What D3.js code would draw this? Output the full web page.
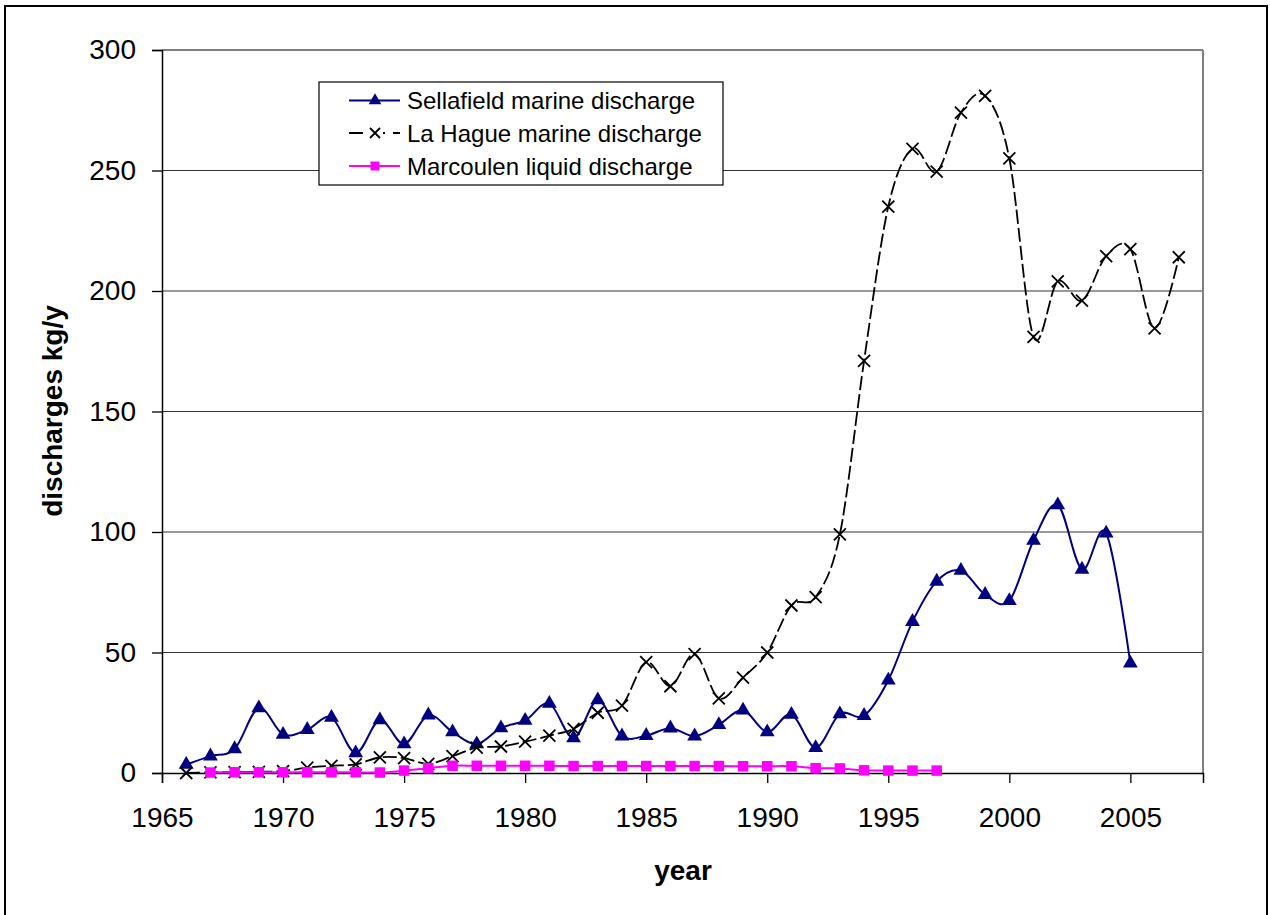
<!DOCTYPE html>
<html>
<head>
<meta charset="utf-8">
<script src="https://cdn.jsdelivr.net/npm/d3@7"></script>
<style>
  body { margin: 0; background: #fff; }
  svg { display: block; font-family: Arial, "Liberation Sans", sans-serif; }
</style>
</head>
<body>
<div id="chart"></div>
<script>

// data (kg/y)
const sellafieldYears = d3.range(1966, 2006);
const sellafield = [3.5, 7, 10, 27, 16, 18, 23, 8.3, 22, 12,
  24, 17, 12, 18.7, 21.8, 28.8, 14.5, 30.3, 15.3, 15.5,
  18.6, 15.3, 20, 26, 17, 24.3, 10.5, 24.5, 23.8, 38.5,
  62.8, 79.5, 84, 74, 71.5, 96.5, 111.2, 84.5, 99.5, 45.5];

const laHagueYears = d3.range(1966, 2008);
const laHague = [0, 0.3, 0.4, 0.5, 0.8, 2.2, 3.0, 3.6, 6.5, 6.2,
  3.8, 7, 10.5, 11, 13, 15.5, 18.3, 25, 28, 46,
  36, 49.3, 31, 39.6, 50, 69.5, 73, 99, 171, 235,
  259, 249.5, 274, 281, 255, 181, 204, 196, 214.5, 217.4,
  184.5, 214];

const marcouleYears = d3.range(1967, 1998);
const marcoule = [0.2, 0.3, 0.3, 0.3, 0.3, 0.3, 0.3, 0.2, 1.0, 2.0,
  3.0, 3.0, 3.0, 3.0, 3.0, 2.9, 2.9, 2.9, 2.9, 2.9,
  2.9, 2.9, 2.8, 2.8, 2.8, 2.0, 1.9, 1.1, 1.0, 1.0, 1.0];

const xTicks = [1965, 1970, 1975, 1980, 1985, 1990, 1995, 2000, 2005];
const yTicks = [0, 50, 100, 150, 200, 250, 300];
const legendLabels = ["Sellafield marine discharge", "La Hague marine discharge", "Marcoulen liquid discharge"];

const width = 1270;
const height = 915;
const margin = {top: 50, right: 67, bottom: 142, left: 162};

const svg = d3.select("#chart").append("svg")
    .attr("width", width)
    .attr("height", height);

// outer chart border
svg.append("rect")
    .attr("x", 5).attr("y", 6)
    .attr("width", 1262).attr("height", 920)
    .attr("fill", "none")
    .attr("stroke", "#000")
    .attr("stroke-width", 2);

const x = d3.scaleLinear()
    .domain([1965, 2008])
    .range([margin.left, width - margin.right]);

const y = d3.scaleLinear()
    .domain([0, 300])
    .range([height - margin.bottom, margin.top]);

// gridlines
svg.append("g")
  .selectAll("line")
  .data(yTicks.slice(1))
  .join("line")
    .attr("x1", x(1965)).attr("x2", x(2008))
    .attr("y1", d => y(d)).attr("y2", d => y(d))
    .attr("stroke", d => d == 300 ? "#808080" : "#333")
    .attr("stroke-width", d => d == 300 ? 2 : 1.2);

// right border of plot area
svg.append("line")
    .attr("x1", x(2008)).attr("x2", x(2008))
    .attr("y1", y(300)).attr("y2", y(0))
    .attr("stroke", "#808080")
    .attr("stroke-width", 2);

// axes
const yAxis = svg.append("g")
    .attr("transform", "translate(" + margin.left + ",0)")
    .call(d3.axisLeft(y).tickValues(yTicks).tickSize(10).tickPadding(16));

const xAxis = svg.append("g")
    .attr("transform", "translate(0," + y(0) + ")")
    .call(d3.axisBottom(x).tickValues(xTicks).tickFormat(d3.format("d")).tickSize(10).tickPadding(24));

[xAxis, yAxis].forEach(a => {
  a.selectAll("text").attr("font-size", 28).attr("fill", "#000")
    .attr("font-family", "Arial, 'Liberation Sans', sans-serif");
  a.selectAll("line").attr("stroke", "#000").attr("stroke-width", 1.3);
  a.select(".domain").attr("stroke", "#000").attr("stroke-width", 1.5);
});

// axis titles
svg.append("text")
    .attr("transform", "translate(52,411) rotate(-90)")
    .attr("text-anchor", "middle")
    .attr("dominant-baseline", "central")
    .attr("font-size", 28)
    .attr("font-weight", "bold")
    .text("discharges kg/y");

svg.append("text")
    .attr("x", 683).attr("y", 870)
    .attr("text-anchor", "middle")
    .attr("dominant-baseline", "central")
    .attr("font-size", 28)
    .attr("font-weight", "bold")
    .text("year");

const line = d3.line()
    .x(d => x(d[0]))
    .y(d => y(d[1]))
    .curve(d3.curveCardinal.tension(0));

const triangle = d3.symbol().type(d3.symbolTriangle).size(95);
const square = d3.symbol().type(d3.symbolSquare).size(110);

function drawX(g, cx, cy, r) {
  g.append("path")
    .attr("d", "M" + (cx - r) + "," + (cy - r) + "L" + (cx + r) + "," + (cy + r) +
               "M" + (cx - r) + "," + (cy + r) + "L" + (cx + r) + "," + (cy - r))
    .attr("stroke", "#000")
    .attr("stroke-width", 1.8)
    .attr("fill", "none");
}

// Sellafield
const sData = sellafieldYears.map((yr, i) => [yr, sellafield[i]]);
svg.append("path")
    .datum(sData)
    .attr("fill", "none")
    .attr("stroke", "#000080")
    .attr("stroke-width", 2)
    .attr("d", line);
svg.append("g").selectAll("path")
  .data(sData)
  .join("path")
    .attr("transform", d => "translate(" + x(d[0]) + "," + y(d[1]) + ")")
    .attr("d", triangle)
    .attr("fill", "#000080");

// La Hague
const hData = laHagueYears.map((yr, i) => [yr, laHague[i]]);
svg.append("path")
    .datum(hData)
    .attr("fill", "none")
    .attr("stroke", "#000")
    .attr("stroke-width", 1.8)
    .attr("stroke-dasharray", "14,4")
    .attr("d", line);
const hMarks = svg.append("g");
hData.forEach(d => drawX(hMarks, x(d[0]), y(d[1]), 6));

// Marcoule
const mData = marcouleYears.map((yr, i) => [yr, marcoule[i]]);
svg.append("path")
    .datum(mData)
    .attr("fill", "none")
    .attr("stroke", "#ff00ff")
    .attr("stroke-width", 2)
    .attr("d", line);
svg.append("g").selectAll("path")
  .data(mData)
  .join("path")
    .attr("transform", d => "translate(" + x(d[0]) + "," + y(d[1]) + ")")
    .attr("d", square)
    .attr("fill", "#ff00ff");

// legend
const legend = svg.append("g");
legend.append("rect")
    .attr("x", 319).attr("y", 82)
    .attr("width", 404).attr("height", 103)
    .attr("fill", "#fff")
    .attr("stroke", "#000")
    .attr("stroke-width", 1.2);

const rowY = [100.5, 133, 166];
const rowColor = ["#000080", "#000", "#ff00ff"];
legendLabels.forEach((lab, i) => {
  legend.append("line")
    .attr("x1", 349).attr("x2", 400)
    .attr("y1", rowY[i]).attr("y2", rowY[i])
    .attr("stroke", rowColor[i])
    .attr("stroke-width", 2)
    .attr("stroke-dasharray", i == 1 ? "14,8" : null);
  if (i == 0) {
    legend.append("path").attr("transform", "translate(375," + rowY[i] + ")")
      .attr("d", d3.symbol().type(d3.symbolTriangle).size(70)).attr("fill", rowColor[i]);
  } else if (i == 1) {
    legend.append("rect").attr("x", 367).attr("y", rowY[i] - 7).attr("width", 16).attr("height", 14).attr("fill", "#fff");
    drawX(legend, 375, rowY[i], 5);
  } else {
    legend.append("path").attr("transform", "translate(375," + rowY[i] + ")")
      .attr("d", d3.symbol().type(d3.symbolSquare).size(80)).attr("fill", rowColor[i]);
  }
  legend.append("text")
    .attr("x", 407).attr("y", rowY[i])
    .attr("dominant-baseline", "central")
    .attr("font-size", 24)
    .text(lab);
});

</script>
</body>
</html>
